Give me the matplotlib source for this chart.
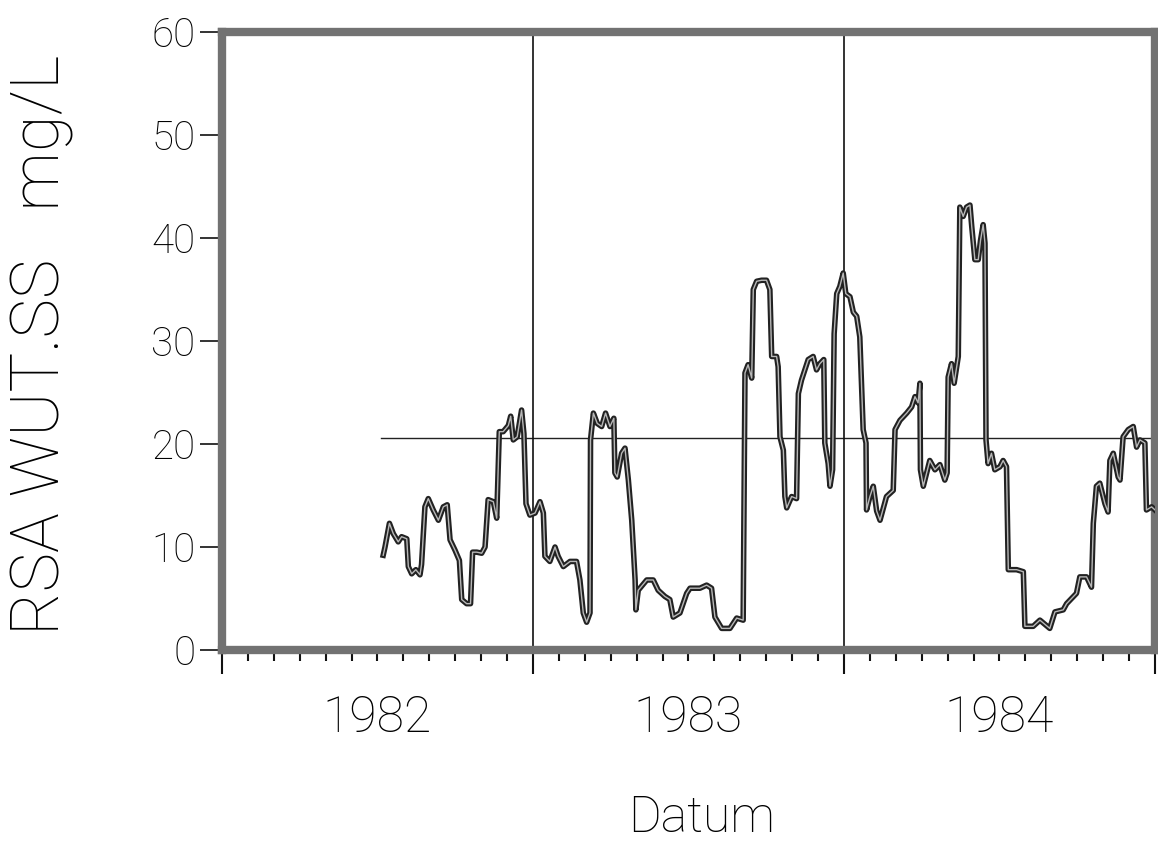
import numpy as np
import matplotlib.pyplot as plt
import matplotlib.transforms as mtransforms

plt.rcParams['font.family'] = ['Roboto', 'DejaVu Sans']

# Monate seit Jan 1982, Messwerte RSA WUT.SS (mg/L)
monat = [6.22, 6.29, 6.46, 6.61, 6.80, 6.93, 7.13, 7.19, 7.32, 7.48, 7.64, 7.70,
         7.83, 7.96, 8.15, 8.35, 8.54, 8.69, 8.80, 8.99, 9.16, 9.25, 9.44, 9.59,
         9.67, 9.83, 10.02, 10.15, 10.27, 10.47, 10.60, 10.70, 10.85, 11.05, 11.14,
         11.24, 11.39, 11.56, 11.65, 11.73, 11.88, 12.08, 12.27, 12.40, 12.46, 12.65,
         12.85, 12.97, 13.17, 13.43, 13.68, 13.81, 13.94, 14.07, 14.20, 14.22, 14.33,
         14.48, 14.65, 14.80, 14.97, 15.12, 15.16, 15.25, 15.42, 15.55, 15.68, 15.81,
         15.94, 15.97, 16.06, 16.39, 16.64, 16.83, 17.09, 17.28, 17.41, 17.67, 17.93,
         18.06, 18.44, 18.70, 18.89, 19.02, 19.28, 19.60, 19.86, 20.11, 20.18, 20.30,
         20.44, 20.50, 20.63, 20.82, 21.01, 21.14, 21.21, 21.40, 21.46, 21.53, 21.66,
         21.72, 21.79, 21.98, 22.17, 22.24, 22.36, 22.62, 22.81, 22.94, 23.07, 23.22,
         23.26, 23.39, 23.46, 23.56, 23.62, 23.72, 23.84, 23.97, 24.07, 24.23, 24.36,
         24.49, 24.61, 24.74, 24.85, 24.87, 25.00, 25.13, 25.26, 25.39, 25.64, 25.90,
         25.97, 26.16, 26.42, 26.61, 26.74, 26.86, 26.93, 26.95, 27.06, 27.31, 27.51,
         27.70, 27.89, 27.98, 28.02, 28.15, 28.25, 28.41, 28.47, 28.60, 28.73, 28.86,
         28.93, 29.05, 29.18, 29.27, 29.37, 29.44, 29.48, 29.56, 29.69, 29.82, 30.02,
         30.14, 30.27, 30.34, 30.66, 30.92, 30.98, 31.30, 31.56, 31.94, 32.14, 32.46,
         32.59, 32.78, 32.97, 33.10, 33.36, 33.55, 33.62, 33.74, 33.87, 34.07, 34.19,
         34.26, 34.39, 34.58, 34.65, 34.77, 34.97, 35.16, 35.29, 35.42, 35.61, 35.67,
         35.87, 36.0]
wert = [9.2, 10.0, 12.3, 11.3, 10.5, 11.0, 10.8, 8.1, 7.4, 7.8, 7.3, 8.3,
        13.9, 14.7, 13.6, 12.6, 13.9, 14.1, 10.7, 9.7, 8.7, 4.9, 4.5, 4.5,
        9.5, 9.5, 9.4, 10.0, 14.6, 14.4, 12.8, 21.2, 21.2, 21.8, 22.7,
        20.4, 20.7, 23.3, 21.0, 14.2, 13.1, 13.3, 14.4, 13.3, 9.1, 8.6,
        10.0, 9.1, 8.1, 8.6, 8.6, 6.8, 3.6, 2.7, 3.6, 20.4, 23.0,
        22.0, 21.7, 23.0, 21.7, 22.5, 17.2, 16.8, 19.1, 19.6, 16.5, 12.6,
        6.8, 3.9, 5.8, 6.8, 6.8, 5.8, 5.2, 4.9, 3.2, 3.6, 5.5,
        6.0, 6.0, 6.3, 6.0, 3.2, 2.1, 2.1, 3.1, 2.9, 26.9, 27.7,
        26.4, 35.0, 35.8, 35.9, 35.9, 35.0, 28.5, 28.5, 27.5, 20.7, 19.4,
        14.9, 13.8, 14.9, 14.7, 24.9, 26.2, 28.2, 28.5, 27.2, 27.8, 28.2,
        20.1, 18.1, 15.9, 17.5, 30.7, 34.6, 35.3, 36.6, 34.6, 34.3, 32.8,
        32.4, 30.4, 21.4, 20.1, 13.6, 14.9, 15.9, 13.5, 12.6, 14.9, 15.5,
        21.4, 22.3, 23.0, 23.6, 24.6, 24.0, 25.9, 17.5, 15.9, 18.4, 17.5,
        18.0, 16.5, 17.2, 26.5, 27.8, 25.9, 28.5, 43.0, 42.1, 43.0, 43.2,
        41.1, 37.9, 37.9, 39.8, 41.3, 39.5, 20.4, 18.1, 19.1, 17.5, 17.8,
        18.4, 17.8, 7.8, 7.8, 7.6, 2.3, 2.3, 2.9, 2.1, 3.7, 3.9,
        4.5, 5.0, 5.5, 7.1, 7.1, 6.1, 12.3, 15.9, 16.2, 14.2, 13.4,
        18.4, 19.1, 16.8, 16.5, 20.7, 21.4, 21.7, 19.7, 20.4, 20.1, 13.6,
        13.9, 13.6]

jahre = ['1982', '1983', '1984']
mittelwert = 20.6
mittel_start = 6.13

fig = plt.figure(figsize=(11.58, 8.41), dpi=100)
ax = fig.add_axes([0.1917, 0.2271, 0.8057, 0.7348])

ax.plot(monat, wert, color='#222222', lw=4.0, solid_joinstyle='round', zorder=3)
ax.plot(monat, wert, color='#b8b8b8', lw=1.0, zorder=4)
ax.plot([mittel_start, 36], [mittelwert, mittelwert], color='#222222', lw=1.0, zorder=2)
for j in (12, 24):
    ax.axvline(j, color='#111111', lw=1.2, zorder=2)

ax.set_xlim(0, 36)
ax.set_ylim(0, 60)
for s in ax.spines.values():
    s.set_linewidth(6)
    s.set_color('#727272')

ax.set_xticks([0, 12, 24, 36])
ax.set_xticks(np.arange(0, 37), minor=True)
ax.set_xticklabels([])
ax.tick_params(axis='x', which='major', length=17, width=1.5, direction='out', color='#111111')
ax.tick_params(axis='x', which='minor', length=8, width=1.5, direction='out', color='#111111')
ax.set_yticks(np.arange(0, 61, 10))
ax.tick_params(axis='y', length=16, width=1.2, direction='out', pad=3, labelsize=29, color='#111111')
for lab in ax.get_yticklabels():
    lab.set_fontweight('light')

trans = mtransforms.blended_transform_factory(ax.transData, ax.transAxes)
for i, jahr in enumerate(jahre):
    ax.text(6 + 12 * i, -0.072, jahr, transform=trans, ha='center', va='top',
            fontsize=36, fontweight='light')

fig.text(0.606, 0.027, 'Datum', ha='center', va='center', fontsize=36, fontweight='light')
fig.text(0.036, 0.59, 'RSA WUT.SS   mg/L', rotation=90, ha='center', va='center',
         fontsize=48, fontweight='light')

fig.savefig('out.png', dpi=100)
